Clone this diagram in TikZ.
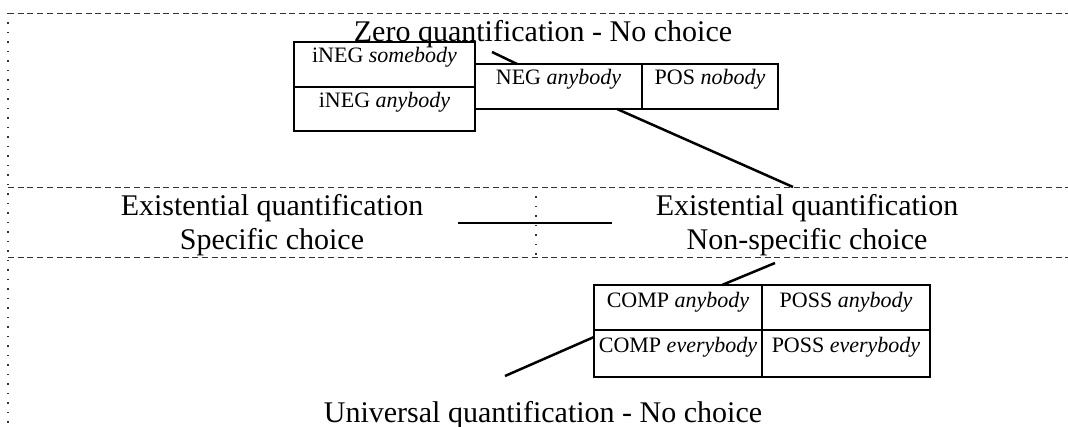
\documentclass[tikz,border=0pt]{standalone}
\usepackage{fontspec}
\setmainfont{Liberation Serif}
\begin{document}
\begin{tikzpicture}[x=1pt,y=-1pt,
  region/.style={black!80, line width=0.8pt, dash pattern=on 6pt off 3.7pt},
  dotline/.style={black!80, line width=1.3pt, dash pattern=on 1.3pt off 8.2pt},
  cell/.style={draw, line width=1.5pt, rectangle, inner sep=0pt, outer sep=0pt, anchor=north west},
  celltext/.style={anchor=base, inner sep=0pt, font=\fontsize{22}{26}\selectfont},
  bigtext/.style={anchor=base, inner sep=0pt, font=\fontsize{30}{34}\selectfont},
  link/.style={line width=2.5pt}]
\useasboundingbox (0,0) rectangle (1068,427);
% region boundaries
\draw[region] (8,13) -- (1068,13);
\draw[region] (8,187) -- (1068,187);
\draw[region] (8,257) -- (1068,257);
\draw[dotline] (8,13) -- (8,427);
\draw[dotline] (536,187) -- (536,257);
% region titles
\node[bigtext] (zero) at (543,42) {Zero quantification - No choice};
\node[bigtext] (exs1) at (272,216) {Existential quantification};
\node[bigtext] (exs2) at (272,250) {Specific choice};
\node[bigtext] (exn1) at (807,216) {Existential quantification};
\node[bigtext] (exn2) at (807,250) {Non-specific choice};
\node[bigtext] (univ) at (543,422) {Universal quantification - No choice};
% boxes
\node[cell, minimum width=181pt, minimum height=45pt] (ineg1) at (294,42) {};
\node[cell, minimum width=181pt, minimum height=44pt] (ineg2) at (294,87) {};
\node[cell, minimum width=167pt, minimum height=45pt] (neg) at (475,64) {};
\node[cell, minimum width=136pt, minimum height=45pt] (pos) at (642,64) {};
\node[cell, minimum width=168pt, minimum height=45pt] (comp1) at (594,285) {};
\node[cell, minimum width=168pt, minimum height=47pt] (comp2) at (594,330) {};
\node[cell, minimum width=168pt, minimum height=45pt] (poss1) at (762,285) {};
\node[cell, minimum width=168pt, minimum height=47pt] (poss2) at (762,330) {};
% box texts
\node[celltext] (t1) at ([yshift=-21pt]ineg1.north) {iNEG \textit{somebody}};
\node[celltext] (t2) at ([yshift=-21pt]ineg2.north) {iNEG \textit{anybody}};
\node[celltext] (t3) at ([yshift=-21pt]neg.north) {NEG \textit{anybody}};
\node[celltext] (t4) at ([yshift=-21pt]pos.north) {POS \textit{nobody}};
\node[celltext] (t5) at ([yshift=-23pt]comp1.north) {COMP \textit{anybody}};
\node[celltext] (t6) at ([yshift=-23pt]comp2.north) {COMP \textit{everybody}};
\node[celltext] (t7) at ([yshift=-23pt]poss1.north) {POSS \textit{anybody}};
\node[celltext] (t8) at ([yshift=-23pt]poss2.north) {POSS \textit{everybody}};
% free ends
\coordinate (e1) at (492,52);
\coordinate (e2) at (793,187);
\coordinate (e3a) at (458,223);
\coordinate (e3b) at (612,223);
\coordinate (e4) at (775,263);
\coordinate (e5) at (505,376);
% connectors
\draw[link] ([xshift=42pt]neg.north west) -- (e1);
\draw[link] ([xshift=142pt]neg.south west) -- (e2);
\draw[link] (e3a) -- (e3b);
\draw[link] ([xshift=128pt]comp1.north west) -- (e4);
\draw[link] ([yshift=-7pt]comp2.north west) -- (e5);
\end{tikzpicture}
\end{document}
